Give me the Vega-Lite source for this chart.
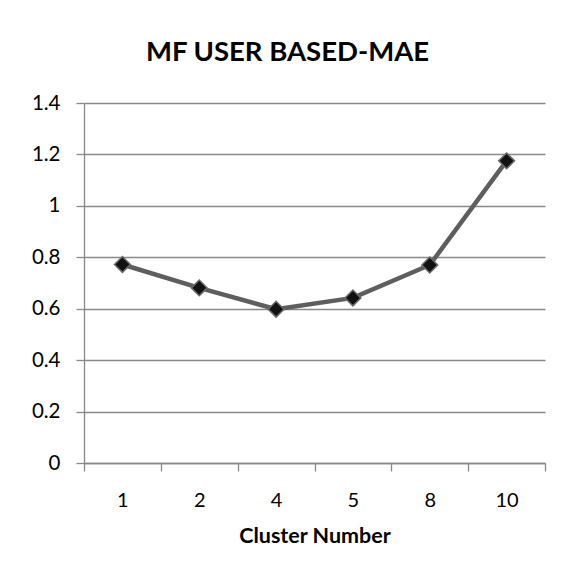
{
  "$schema": "https://vega.github.io/schema/vega-lite/v6.json",
  "autosize": "none",
  "width": 461,
  "height": 360,
  "padding": {"left": 84, "top": 103, "right": 21, "bottom": 118},
  "background": "white",
  "title": {
    "text": "MF USER BASED-MAE",
    "font": "Lato",
    "fontSize": 27.5,
    "fontWeight": "bold",
    "color": "#000000",
    "anchor": "middle",
    "dx": -27,
    "offset": 27
  },
  "data": {
    "values": [
      {"cluster": "1", "mae": 0.772},
      {"cluster": "2", "mae": 0.681},
      {"cluster": "4", "mae": 0.598},
      {"cluster": "5", "mae": 0.642},
      {"cluster": "8", "mae": 0.77},
      {"cluster": "10", "mae": 1.175}
    ]
  },
  "config": {
    "view": {"stroke": null},
    "axis": {
      "labelFont": "Lato",
      "labelColor": "#000000",
      "titleFont": "Lato",
      "titleFontSize": 21.5,
      "titleFontWeight": "bold",
      "titleColor": "#000000",
      "domainColor": "#898989",
      "tickColor": "#898989",
      "gridColor": "#898989",
      "domainWidth": 1.3,
      "tickWidth": 1.3,
      "gridWidth": 1.3
    }
  },
  "encoding": {
    "x": {
      "field": "cluster",
      "type": "ordinal",
      "sort": null,
      "scale": {"type": "band", "paddingInner": 0, "paddingOuter": 0},
      "axis": {
        "title": "Cluster Number",
        "labelAngle": 0,
        "labelFontSize": 20,
        "tickBand": "extent",
        "tickSize": 8,
        "labelPadding": 19,
        "titlePadding": 15,
        "grid": false
      }
    },
    "y": {
      "field": "mae",
      "type": "quantitative",
      "scale": {"domain": [0, 1.4]},
      "axis": {
        "title": null,
        "values": [0, 0.2, 0.4, 0.6, 0.8, 1, 1.2, 1.4],
        "format": "~g",
        "labelFontSize": 20.5,
        "tickSize": 8,
        "labelPadding": 16,
        "grid": true
      }
    }
  },
  "layer": [
    {
      "mark": {"type": "line", "color": "#5e5e5e", "strokeWidth": 4.5}
    },
    {
      "mark": {
        "type": "point",
        "shape": "diamond",
        "filled": true,
        "size": 250,
        "fill": "#111111",
        "stroke": "#6a6a6a",
        "strokeWidth": 1.5,
        "opacity": 1
      }
    }
  ]
}
